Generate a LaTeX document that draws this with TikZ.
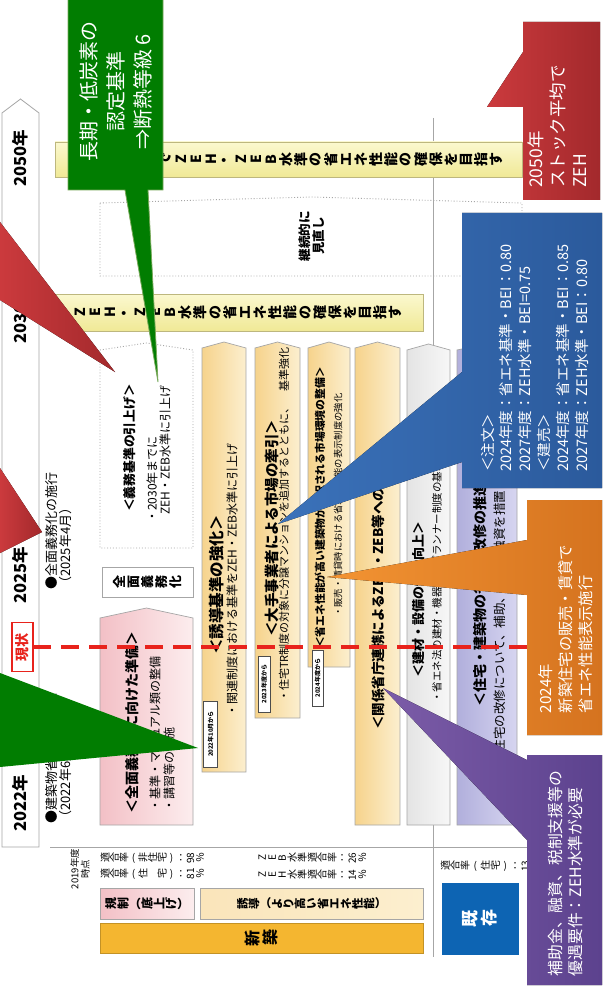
\documentclass[tikz,border=0pt]{standalone}
\usepackage{fontspec}
\setmainfont{Noto Sans CJK JP}
\usepackage{graphicx}
\ExplSyntaxOn
\NewDocumentCommand\tate{mm}
  {
    \tl_map_inline:nn {#2}
      {
        \tl_if_in:nnTF {（）()：ー} {##1}
          { \makebox[#1][c]{##1} }
          { \makebox[#1][c]{\rotatebox[origin=c]{90}{##1}} }
      }
  }
\ExplSyntaxOff
\newcommand\fs[2]{\fontsize{#1}{#2}\selectfont}
\definecolor{frame}{HTML}{A6A6A6}
\definecolor{pinkL}{HTML}{F3C0C6}
\definecolor{pinkR}{HTML}{FCEDEE}
\definecolor{ylwL}{HTML}{F6D38C}
\definecolor{ylwR}{HTML}{FCEFCF}
\definecolor{greyL}{HTML}{E4E4E4}
\definecolor{greyR}{HTML}{F7F7F7}
\definecolor{purL}{HTML}{B1AFDC}
\definecolor{purR}{HTML}{D6D5F0}
\definecolor{barT}{HTML}{FBF8CF}
\definecolor{barB}{HTML}{F0E996}
\definecolor{barE}{HTML}{BDB77E}
\definecolor{cgreen}{HTML}{017D01}
\definecolor{cgreenE}{HTML}{79A95A}
\definecolor{credL}{HTML}{CB3A3D}
\definecolor{credR}{HTML}{A3292C}
\definecolor{cblueL}{HTML}{3B72BA}
\definecolor{cblueR}{HTML}{2B5A9C}
\definecolor{corgL}{HTML}{F39433}
\definecolor{corgR}{HTML}{D5731F}
\definecolor{cpurL}{HTML}{7C5CA8}
\definecolor{cpurR}{HTML}{5C428E}
\definecolor{shinchiku}{HTML}{F4B630}
\definecolor{kizon}{HTML}{0D64B3}
\definecolor{dashred}{HTML}{E8231C}
\begin{document}
\begin{tikzpicture}[x=1pt,y=-1pt,
  rt/.style={rotate=90, inner sep=0pt, align=left},
  yr/.style={rotate=90, inner sep=0pt, font=\bfseries\fs{16.5}{18}},
  colbox/.style={draw=frame, line width=0.7},
  ttl/.style={rt, anchor=west, font=\bfseries\fs{#1}{#1}},
  blt/.style={rt, anchor=west, font=\fs{#1}{#1}},
  tag/.style={rotate=90, draw=black!70, fill=white, line width=0.5, inner sep=0pt, font=\bfseries\fs{6}{6}},
  bar/.style={draw=barE, line width=0.7, top color=barT, bottom color=barB},
  tatebox/.style={draw=frame, line width=0.7, inner sep=0pt},
  ctext/.style={rt, text=white}
]
\useasboundingbox (0,0) rectangle (603,1000);
\fill[white] (0,0) rectangle (603,1000);

% guide lines
\draw[frame, line width=0.8] (433,118) -- (433,957);
\draw[frame, line width=0.8] (50,847) -- (527,847);

% timeline arrow
\draw[frame, fill=white, line width=0.8] (2,113) -- (20.5,99) -- (39,113) -- (39,847) -- (2,847) -- cycle;
\node[yr] (y2050) at (20.5,158) {2050年};
\node[yr] (y2030) at (20.5,315) {2030年};
\node[yr] (y2025) at (20.5,575) {2025年};
\node[yr] (y2022) at (20.5,803) {2022年};

% dotted review box
\draw[frame, dotted, line width=0.9] (100,203) -- (311,197) -- (522,203) -- (522,276) -- (100,276) -- cycle;
\node[rt, align=center, font=\bfseries\fs{12.5}{14}] (minaoshi) at (312,236) {継続的に\\見直し};

% goal bars
\draw[bar] (55,142) rectangle (522,177);
\node[inner sep=0pt, font=\bfseries\fs{14}{14}] (bar2050) at (286,160) {\tate{15pt}{ストック平均でZEH・ZEB水準の省エネ性能の確保を目指す}};
\draw[bar] (55,294) rectangle (423,331);
\node[inner sep=0pt, font=\bfseries\fs{14}{14}] (bar2030) at (238,313) {\tate{15pt}{ZEH・ZEB水準の省エネ性能の確保を目指す}};

% columns
\draw[colbox, left color=pinkL, right color=pinkR] (100,618) -- (146.5,608) -- (193,618) -- (193,825) -- (100,825) -- cycle;
\draw[frame, dotted, line width=0.9, fill=white] (100,350) -- (146.5,343) -- (193,350) -- (193,548) -- (100,548) -- cycle;
\draw[colbox, left color=ylwL, right color=ylwR] (202,348) -- (224,342) -- (246,348) -- (246,772) -- (202,772) -- cycle;
\draw[colbox, left color=ylwL, right color=ylwR] (255,348) -- (277.5,342) -- (300,348) -- (300,718) -- (255,718) -- cycle;
\draw[colbox, left color=ylwL, right color=ylwR] (308,348) -- (329,342) -- (350,348) -- (350,667) -- (308,667) -- cycle;
\draw[colbox, left color=ylwL, right color=ylwR] (355,348) -- (377.5,342) -- (400,348) -- (400,825) -- (355,825) -- cycle;
\draw[colbox, left color=greyL, right color=greyR] (407,350) -- (428.5,344) -- (450,350) -- (450,825) -- (407,825) -- cycle;
\draw[colbox, left color=purL, right color=purR] (457,350) -- (487,344) -- (517,350) -- (517,825) -- (457,825) -- cycle;

\node[tatebox, fill=white, minimum width=91, minimum height=30, font=\bfseries\fs{13}{13}] (zenmenbox) at (147.5,582) {\tate{14pt}{全面義務化}};

% column texts
\node[ttl=14] (t1) at (132,814) {＜全面義務化に向けた準備＞};
\node[blt=12] (b1a) at (155,812) {・基準・マニュアル類の整備};
\node[blt=12] (b1b) at (169,812) {・講習等の実施};

\node[ttl=12.8] (t3) at (130,512) {＜義務基準の引上げ＞};
\node[blt=12] (b3a) at (152,523) {・2030年までに};
\node[blt=12] (b3b) at (165,515) {ZEH・ZEB水準に引上げ};

\node[ttl=15.5] (t4) at (217,655) {＜誘導基準の強化＞};
\node[blt=12] (b4) at (232,717) {・関連制度における基準をZEH・ZEB水準に引上げ};
\node[tag, minimum width=66, minimum height=14] (tag4) at (210.5,734) {2022年10月から};

\node[ttl=14.5] (t5) at (272,637) {＜大手事業者による市場の牽引＞};
\node[blt=11] (b5) at (284,702) {・住宅TR制度の対象に分譲マンションを追加するとともに、　基準強化};
\node[tag, minimum width=56, minimum height=12] (tag5) at (264,684) {2023年度から};

\node[ttl=10.8] (t6) at (320,648) {＜省エネ性能が高い建築物が選択される市場環境の整備＞};
\node[blt=9.3] (b6) at (338,617) {・販売・賃貸時における省エネ性能の表示制度の強化};
\node[tag, minimum width=56, minimum height=11] (tag6) at (317.5,678) {2024年度から};

\node[ttl=13.5] (t7) at (378,730) {＜関係省庁連携によるZEH・ZEB等への支援＞};

\node[ttl=13] (t8) at (419,678) {＜建材・設備の性能向上＞};
\node[blt=10.5] (b8) at (437,703) {・省エネ法の建材・機器トップランナー制度の基準強化};

\node[ttl=14] (t9) at (480,707) {＜住宅・建築物の省エネ改修の推進＞};
\node[blt=12.5] (b9) at (500,815) {・改修時に住宅の改修について、補助、税制、融資を措置};

% left milestones
\node[rt, anchor=north west, font=\fs{13}{14}] (m2025) at (45,590) {●全面義務化の施行\\（2025年4月）};
\node[rt, anchor=north west, font=\fs{13}{14}] (m2022) at (45,824) {●建築物省エネ法改正\\（2022年6月）};

% bottom section
\node[rt, align=center, font=\fs{9.5}{10.5}] (fy2019) at (80,869) {2019年度\\時点};
\node[anchor=west, inner sep=0pt, font=\fs{10}{10}] (r1) at (100,858) {\tate{9.5pt}{適合率(非住宅)：{98}％}};
\node[anchor=west, inner sep=0pt, font=\fs{10}{10}] (r2) at (100,875) {\tate{9.5pt}{適合率(住　宅)：{81}％}};
\node[anchor=west, inner sep=0pt, font=\fs{10}{10}] (r3) at (257,858) {\tate{10pt}{ZEB水準適合率：{26}％}};
\node[anchor=west, inner sep=0pt, font=\fs{10}{10}] (r4) at (257,875) {\tate{10pt}{ZEH水準適合率：{14}％}};
\node[anchor=west, inner sep=0pt, font=\fs{10}{10}] (r5) at (440,866) {\tate{10pt}{適合率(住宅)：{13}％}};

\node[tatebox, left color=pinkL, right color=pinkR, minimum width=94, minimum height=31, font=\bfseries\fs{12}{12}] (kisei) at (147,903.5) {\tate{12pt}{規制（底上げ）}};
\node[tatebox, left color=ylwL!60, right color=ylwR, minimum width=223, minimum height=31, font=\bfseries\fs{11.5}{11.5}] (yudo) at (311.5,903.5) {\tate{11.5pt}{誘導（より高い省エネ性能）}};
\node[draw=shinchiku!80!black, fill=shinchiku, line width=0.7, inner sep=0pt, minimum width=323, minimum height=30, font=\bfseries\fs{16}{16}] (shin) at (261.5,938) {\tate{17pt}{新築}};
\node[draw=kizon, fill=kizon, inner sep=0pt, minimum width=76, minimum height=71, text=white, font=\bfseries\fs{17}{17}] (kizonbox) at (480,918.5) {\tate{19pt}{既存}};

% current line
\draw[dashred, line width=3.5, dash pattern=on 18pt off 10pt] (33,647) -- (527,647);
\node[rotate=90, draw=dashred, line width=1.6, fill=white, text=dashred, inner sep=0pt, minimum width=49, minimum height=21, font=\bfseries\fs{14}{14}] (genjo) at (22.5,647) {現状};

% callouts
\fill[left color=credL, right color=credR] (0,222) -- (115,372) -- (0,300) -- cycle;
\fill[left color=credL, right color=credR] (0,468) -- (42,532) -- (0,553) -- cycle;
\fill[cgreen] (0,673) -- (198,748) -- (0,767) -- cycle;

\draw[cgreenE, fill=cgreen, line width=0.8] (68,-2) -- (163,-2) -- (163,190) -- (148,190) -- (158,382) -- (125,190) -- (68,190) -- cycle;
\node[rt, align=center, text=white, font=\fs{20}{27}] (cg) at (116,92) {長期・低炭素の\\認定基準\\⇒断熱等級 6};

\fill[left color=credL, right color=credR] (523,22) -- (600,22) -- (600,200) -- (523,200) -- (523,107) -- (487,107) -- (523,52) -- cycle;
\node[ctext, font=\fs{17.5}{22}] (cr) at (557,126.5) {2050年\\ストック平均で\\ZEH};

\fill[left color=cblueL, right color=cblueR] (462,213) -- (602,213) -- (602,488) -- (462,488) -- (462,462) -- (278,524) -- (462,372) -- cycle;
\node[ctext, font=\fs{14.5}{18.8}] (cb) at (534.5,358) {＜注文＞\\2024年度：省エネ基準・BEI：0.80\\2027年度：ZEH水準・BEI=0.75\\＜建売＞\\2024年度：省エネ基準・BEI：0.85\\2027年度：ZEH水準・BEI：0.80};

\fill[left color=corgL, right color=corgR] (527,500) -- (602,500) -- (602,735) -- (527,735) -- (527,595) -- (327,577) -- (527,540) -- cycle;
\node[ctext, font=\fs{15.3}{20}] (co) at (565.5,629) {2024年\\新築住宅の販売・賃貸で\\省エネ性能表示施行};

\fill[left color=cpurL, right color=cpurR] (527,755) -- (602,755) -- (602,985) -- (527,985) -- (527,840) -- (383,688) -- (527,760) -- cycle;
\node[ctext, font=\fs{15.8}{20}] (cp) at (565,873.5) {補助金、融資、税制支援等の\\優遇要件：ZEH水準が必要};
\end{tikzpicture}
\end{document}
